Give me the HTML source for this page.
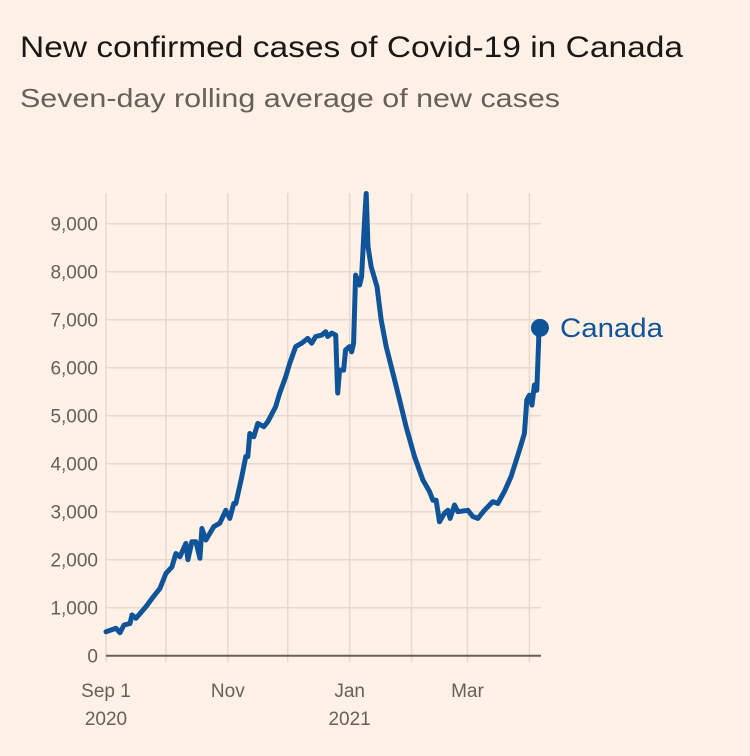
<!DOCTYPE html>
<html><head><meta charset="utf-8"><style>
body{margin:0;background:#fff1e5;}
svg{display:block;font-family:"Liberation Sans",sans-serif;}
</style></head><body>
<svg width="750" height="756" viewBox="0 0 750 756">
<rect width="750" height="756" fill="#fff1e5"/>
<text x="20" y="57" font-size="30" fill="#1a1817" textLength="663" lengthAdjust="spacingAndGlyphs">New confirmed cases of Covid-19 in Canada</text>
<text x="20" y="107" font-size="26" fill="#66605c" textLength="540" lengthAdjust="spacingAndGlyphs">Seven-day rolling average of new cases</text>
<g id="grid"></g><g id="yticks"></g><g id="xticks"></g><g id="series"></g>
</svg>
<script>
const yTicks=[0,1000,2000,3000,4000,5000,6000,7000,8000,9000];
const xTickDays=[0,30,61,91,122,153,181,212];
const xTickLabels=[["Sep 1","2020"],[""],["Nov"],[""],["Jan","2021"],[""],["Mar"],[""]];
const days=[0,5,7,9,12,13,15,20,23,27,30,33,35,37,40,41,43,45,47,48,50,54,57,60,62,64,65,68,70,71,72,74,76,79,81,85,87,90,92,95,98,101,103,105,108,110,111,113,115,116,117,119,120,122,123,124,125,127,128,129.5,130.3,131.2,132.8,135.7,137.8,140.3,143.7,147,150.3,154.5,158.7,162,163.7,165.3,167,169.5,171.2,172.3,174.5,176.2,181.2,183.7,186.2,189.5,193.7,196.2,199.5,202.8,207,209.5,210.7,212,213.3,214.5,215.7,216.7];
const cases=[500,570,480,640,670,850,780,1020,1190,1400,1715,1850,2130,2060,2340,2000,2375,2375,2030,2650,2410,2690,2760,3030,2860,3170,3170,3730,4150,4150,4630,4560,4840,4770,4875,5190,5470,5810,6090,6440,6510,6610,6510,6650,6680,6750,6650,6720,6680,5470,5950,5950,6370,6440,6330,6510,7930,7720,7900,9080,9630,8520,8100,7690,6990,6440,5880,5330,4770,4150,3660,3420,3240,3240,2790,2970,3030,2860,3140,3000,3030,2900,2860,3030,3210,3170,3420,3730,4280,4630,5330,5430,5220,5640,5530,6580];
const lastDay=217.3, lastValue=6830;
const NS="http://www.w3.org/2000/svg";
const X=d=>106+d*1.997, Y=v=>655.7-v*0.048;
function mk(tag,attrs,parent){const e=document.createElementNS(NS,tag);for(const k in attrs)e.setAttribute(k,attrs[k]);parent.appendChild(e);return e;}
const grid=document.getElementById('grid'),yt=document.getElementById('yticks'),xt=document.getElementById('xticks'),ser=document.getElementById('series');
yTicks.forEach(v=>{
  if(v>0){const l=mk('line',{x1:106,x2:541,y1:Y(v),y2:Y(v),stroke:'#e6d9ce','stroke-width':1.5},grid);
  
  }
  const t=mk('text',{x:98,y:Y(v)+7,'text-anchor':'end','font-size':19,fill:'#66605c'},yt);t.textContent=v.toLocaleString('en-US');
  
  
});
xTickDays.forEach((d,i)=>{
  const l=mk('line',{x1:X(d),x2:X(d),y1:193,y2:662,stroke:'#e6d9ce','stroke-width':1.5},grid);
  
  
  xTickLabels[i].forEach((s,j)=>{if(!s)return;
    const t=mk('text',{x:X(d),y:697+j*28,'text-anchor':'middle','font-size':19,fill:'#66605c'},xt);t.textContent=s;
    
    });
});
const base=mk('line',{x1:106,x2:541,y1:655.7,y2:655.7,stroke:'#66605c','stroke-width':2},grid);


let dstr=days.map((d,i)=>(i?'L':'M')+X(d).toFixed(1)+' '+Y(cases[i]).toFixed(1)).join(' ')+' L'+X(lastDay-0.6).toFixed(1)+' '+Y(lastValue).toFixed(1);
const p=mk('path',{d:dstr,fill:'none',stroke:'#0f5499','stroke-width':5,'stroke-linejoin':'round','stroke-linecap':'round'},ser);


const c=mk('circle',{cx:X(lastDay),cy:Y(lastValue),r:9,fill:'#0f5499'},ser);


const lab=mk('text',{x:560,y:Y(lastValue)+9,'font-size':27,fill:'#0f5499',textLength:103,lengthAdjust:'spacingAndGlyphs'},ser);lab.textContent='Canada';


</script>
</body></html>
